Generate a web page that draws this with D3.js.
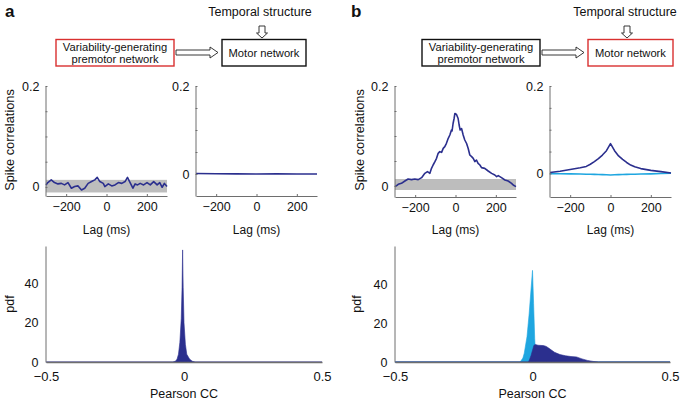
<!DOCTYPE html>
<html>
<head>
<meta charset="utf-8">
<script src="https://cdn.jsdelivr.net/npm/d3@7"></script>
<style>
  body { margin: 0; background: #fff; }
  svg text { font-family: "Liberation Sans", Arial, Helvetica, sans-serif; fill: #111; }
  .axis path, .axis line { stroke: #6e6e6e; }
  .axis text { font-size: 12px; }
</style>
</head>
<body>
<div id="chart"></div>
<script>
// ---- data ----
// a, left: premotor network spike correlations
const aLeftLag  = [-300,-291,-274,-258,-241,-224,-208,-191,-174,-158,-141,-124,-108,-91,-74,-58,-46,-33,-16,-8,9,26,42,59,76,92,104,117,131,142,154,167,184,201,217,234,251,264,276,287,300];
const aLeftCorr = [0.004,0.0086,0.014,0.0086,0.006,0.007,0.004,0.0086,-0.0026,0.0007,0.002,-0.006,-0.0026,0.007,0.0106,0.014,0.019,0.0106,0.007,0.0007,0.006,0.002,0.004,0.0086,0.007,0.0106,0.019,0.0086,-0.0026,0.006,0.004,0.007,0.004,0.0086,0.004,0.0106,0.004,0.0086,-0.0007,0.007,0.0007];
// a, right: motor network
const aRightLag  = [-300,-200,-100,0,100,200,300];
const aRightCorr = [0.001,0.0005,0.0003,0,0.0002,0,0];
// b, left
const bLeftLag  = [-300,-292,-284,-268,-251,-235,-218,-202,-185,-168,-152,-139,-127,-119,-111,-102,-94,-86,-78,-69,-61,-53,-45,-36,-28,-20,-17,-12,-7,-3,5,13,18,23,30,38,46,55,63,71,80,88,96,104,112,121,129,145,162,179,195,204,212,228,245,261,278,286,300];
const bLeftCorr = [-0.0013,0.0007,0.0033,0.0053,0.010,0.014,0.0127,0.014,0.0127,0.0167,0.0253,0.0287,0.0253,0.0353,0.042,0.0487,0.0553,0.0653,0.0687,0.0673,0.0753,0.0787,0.0853,0.0953,0.102,0.112,0.110,0.125,0.135,0.145,0.143,0.135,0.122,0.112,0.115,0.102,0.092,0.085,0.075,0.062,0.0587,0.0553,0.0487,0.052,0.0453,0.042,0.0367,0.0353,0.030,0.0253,0.022,0.0187,0.0207,0.0167,0.012,0.010,0.0053,0.002,-0.0013];
// b, right
const bRightLag   = [-300,-250,-200,-150,-120,-100,-80,-60,-40,-20,0,20,40,60,80,100,120,150,200,250,300];
const bRightDark  = [0.002,0.005,0.009,0.013,0.016,0.021,0.027,0.034,0.042,0.052,0.068,0.052,0.040,0.032,0.025,0.019,0.015,0.011,0.007,0.004,0.001];
const bRightLight = [-0.0005,-0.0008,-0.001,-0.0015,-0.0018,-0.002,-0.0022,-0.0025,-0.0027,-0.003,-0.0035,-0.003,-0.0027,-0.0025,-0.0022,-0.002,-0.0018,-0.0015,-0.001,-0.0003,0.0005];
// shaded significance bands
const aBand = [-0.011, 0.014];
const bBand = [-0.008, 0.014];

// pdfs of Pearson CC
const aPdfX = [-0.5,-0.04,-0.03,-0.025,-0.02,-0.015,-0.01,-0.007,-0.005,-0.003,0,0.005,0.01,0.02,0.03,0.04,0.5];
const aPdfY = [0,0,0.5,1.5,4,10,22,38,57,38,20,9,4,1.5,0.4,0,0];
const bLightX = [-0.5,-0.045,-0.035,-0.03,-0.02,-0.012,-0.005,0,0.004,0.008,0.012,0.015,0.5];
const bLightY = [0,0,2,4.5,13,25,38,47,30,12,2,0,0];
const bDarkX = [-0.5,-0.015,-0.01,-0.005,0,0.005,0.01,0.02,0.04,0.05,0.06,0.07,0.08,0.1,0.12,0.14,0.16,0.18,0.2,0.22,0.24,0.5];
const bDarkY = [0,0,1.5,3.5,6,8.5,9,8.6,8.4,8,7,6,5,3.8,3.2,2.8,2.6,1.6,0.8,0.3,0,0];

// ticks
const lagTicks = [-200, 0, 200];
const corrTickMarks = [0, 0.05, 0.1, 0.15, 0.2];
const corrLabels = [0, 0.2];
const ccTicks = [-0.5, 0, 0.5];
const pdfTicks = [0, 20, 40];

const darkBlue = "#2b2f8e";
const lightBlue = "#1fa6e0";
const red = "#d9302f";
const fmt = d3.format("~g");

const svg = d3.select("#chart").append("svg")
    .attr("width", 685)
    .attr("height", 402);

function zip(xs, ys) {
    return xs.map((x, i) => ({ x: x, y: ys[i] }));
}

// cross-correlogram panel
function corrPanel(opts) {
    let x = d3.scaleLinear().domain([-300, 300]).range(opts.xRange);
    let y = d3.scaleLinear().domain(opts.yDomain).range([opts.bottom, 86]);
    let g = svg.append("g");

    if (opts.band) {
        g.append("rect")
            .attr("x", x(-300))
            .attr("width", x(300) - x(-300))
            .attr("y", y(opts.band[1]))
            .attr("height", y(opts.band[0]) - y(opts.band[1]))
            .attr("fill", "#bdbdbd");
    }

    let line = d3.line().x(d => x(d.x)).y(d => y(d.y));
    opts.series.forEach(s => {
        g.append("path")
            .datum(zip(s.lag, s.val))
            .attr("fill", "none")
            .attr("stroke", s.color)
            .attr("stroke-width", 1.6)
            .attr("stroke-linejoin", "round")
            .attr("d", line);
    });

    g.append("g")
        .attr("class", "axis")
        .attr("transform", `translate(0,${opts.bottom})`)
        .call(d3.axisBottom(x).tickValues(lagTicks).tickSizeInner(-2).tickSizeOuter(0).tickPadding(6).tickFormat(fmt));

    g.append("g")
        .attr("class", "axis")
        .attr("transform", `translate(${opts.xRange[0] - 0.5},0)`)
        .call(d3.axisLeft(y).tickValues(corrTickMarks).tickSizeInner(-2).tickSizeOuter(0).tickPadding(6)
            .tickFormat(d => corrLabels.includes(d) ? fmt(d) : ""));

    g.selectAll(".axis text").style("font-size", "12.5px");

    g.append("text")
        .attr("x", (opts.xRange[0] + opts.xRange[1]) / 2)
        .attr("y", 234)
        .attr("text-anchor", "middle")
        .style("font-size", "12px")
        .text("Lag (ms)");

    if (opts.yLabelX) {
        g.append("text")
            .attr("transform", `translate(${opts.yLabelX},140) rotate(-90)`)
            .attr("text-anchor", "middle")
            .attr("dy", "0.35em")
            .style("font-size", "12.8px")
            .text("Spike correlations");
    }
}

// histogram / pdf panel
function pdfPanel(opts) {
    let x = d3.scaleLinear().domain([-0.5, 0.5]).range(opts.xRange);
    let y = d3.scaleLinear().domain([0, opts.yMax]).range([362, 246]);
    let g = svg.append("g");

    let area = d3.area().x(d => x(d.x)).y0(y(0)).y1(d => y(d.y));
    opts.series.forEach(s => {
        g.append("path")
            .datum(zip(s.xs, s.ys))
            .attr("fill", s.color)
            .attr("stroke", s.color)
            .attr("stroke-width", 0.6)
            .attr("d", area);
    });

    let xa = g.append("g")
        .attr("class", "axis")
        .attr("transform", "translate(0,362)")
        .call(d3.axisBottom(x).tickValues(ccTicks).tickSize(0).tickPadding(10).tickFormat(fmt));
    xa.select(".domain").attr("stroke", "#8a8fb0").attr("stroke-width", 1.5);
    xa.selectAll("text").style("font-size", "13px");

    let ya = g.append("g")
        .attr("class", "axis")
        .attr("transform", `translate(${opts.xRange[0] - 0.5},0)`)
        .call(d3.axisLeft(y).tickValues(pdfTicks).tickSize(0).tickPadding(7).tickFormat(fmt));
    ya.selectAll("text").style("font-size", "12.5px");

    g.append("text")
        .attr("x", x(0))
        .attr("y", 398)
        .attr("text-anchor", "middle")
        .style("font-size", "12.5px")
        .text("Pearson CC");

    g.append("text")
        .attr("transform", `translate(${opts.yLabelX},304) rotate(-90)`)
        .attr("text-anchor", "middle")
        .attr("dy", "0.35em")
        .style("font-size", "12.5px")
        .text("pdf");
}

// schematic at the top of each panel
function schematic(opts) {
    let g = svg.append("g");
    g.append("text")
        .attr("x", opts.letterX)
        .attr("y", 17)
        .style("font-size", "17px")
        .style("font-weight", "bold")
        .text(opts.letter);

    g.append("text")
        .attr("x", opts.tempX)
        .attr("y", 16)
        .attr("text-anchor", "middle")
        .style("font-size", "12.5px")
        .text("Temporal structure");

    // hollow down arrow
    let ax = opts.tempX + 2;
    g.append("path")
        .attr("d", `M${ax - 3},26 L${ax + 3},26 L${ax + 3},33 L${ax + 5.5},33 L${ax},38 L${ax - 5.5},33 L${ax - 3},33 Z`)
        .attr("fill", "#fff")
        .attr("stroke", "#222")
        .attr("stroke-width", 0.9);

    // premotor box
    g.append("rect")
        .attr("x", opts.box1[0]).attr("y", 39.5)
        .attr("width", opts.box1[1] - opts.box1[0]).attr("height", 26.5)
        .attr("fill", "#fff")
        .attr("stroke", opts.box1Color)
        .attr("stroke-width", 1.4);
    let c1 = (opts.box1[0] + opts.box1[1]) / 2;
    g.append("text").attr("x", c1).attr("y", 50.5).attr("text-anchor", "middle")
        .style("font-size", "11.2px").text("Variability-generating");
    g.append("text").attr("x", c1).attr("y", 63).attr("text-anchor", "middle")
        .style("font-size", "11.2px").text("premotor network");

    // hollow right arrow
    let [s, e] = opts.arrow;
    g.append("path")
        .attr("d", `M${s},50 L${e - 8},50 L${e - 8},47 L${e},52.5 L${e - 8},58 L${e - 8},55 L${s},55 Z`)
        .attr("fill", "#fff")
        .attr("stroke", "#222")
        .attr("stroke-width", 0.9);

    // motor box
    g.append("rect")
        .attr("x", opts.box2[0]).attr("y", 39.5)
        .attr("width", opts.box2[1] - opts.box2[0]).attr("height", 26.5)
        .attr("fill", "#fff")
        .attr("stroke", opts.box2Color)
        .attr("stroke-width", 1.4);
    g.append("text").attr("x", (opts.box2[0] + opts.box2[1]) / 2).attr("y", 56.5).attr("text-anchor", "middle")
        .style("font-size", "11.2px").text("Motor network");
}

schematic({ letter: "a", letterX: 5, tempX: 260, box1: [56, 174], box1Color: red, arrow: [176, 218], box2: [222, 306], box2Color: "#111" });
schematic({ letter: "b", letterX: 351, tempX: 625, box1: [422, 540], box1Color: "#111", arrow: [542, 584], box2: [588, 673], box2Color: red });

corrPanel({ xRange: [46, 167], yDomain: [-0.018, 0.2], bottom: 196, band: aBand, yLabelX: 10,
    series: [{ lag: aLeftLag, val: aLeftCorr, color: darkBlue }] });
corrPanel({ xRange: [196, 317], yDomain: [-0.05, 0.2], bottom: 196,
    series: [{ lag: aRightLag, val: aRightCorr, color: darkBlue }] });
corrPanel({ xRange: [395, 516], yDomain: [-0.022, 0.2], bottom: 197, band: bBand, yLabelX: 360,
    series: [{ lag: bLeftLag, val: bLeftCorr, color: darkBlue }] });
corrPanel({ xRange: [550, 671], yDomain: [-0.054, 0.2], bottom: 197,
    series: [{ lag: bRightLag, val: bRightLight, color: lightBlue }, { lag: bRightLag, val: bRightDark, color: darkBlue }] });

pdfPanel({ xRange: [46, 322], yMax: 59, yLabelX: 10,
    series: [{ xs: aPdfX, ys: aPdfY, color: darkBlue }] });
pdfPanel({ xRange: [395, 670], yMax: 59.5, yLabelX: 357,
    series: [{ xs: bLightX, ys: bLightY, color: lightBlue }, { xs: bDarkX, ys: bDarkY, color: darkBlue }] });
</script>
</body>
</html>
